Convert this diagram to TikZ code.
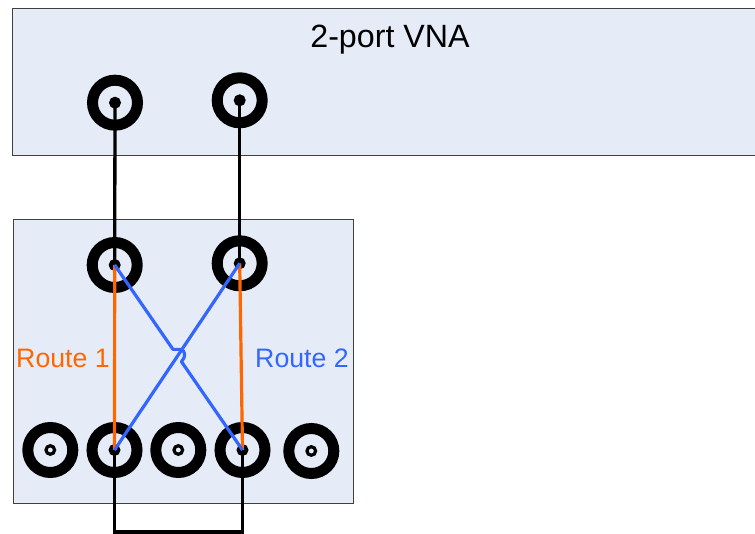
\documentclass[tikz,border=0pt]{standalone}
\usepackage{fontspec}
\setmainfont{Liberation Sans}
\usetikzlibrary{calc}
\definecolor{panel}{HTML}{E6ECF7}
\definecolor{routeO}{HTML}{FF6600}
\definecolor{routeB}{HTML}{3366FF}
\tikzset{
  panelbox/.style={draw=black!75,line width=0.75pt,fill=panel},
  jack/.style={circle,draw=black,line width=11pt,minimum size=45pt,inner sep=0pt,fill=panel},
  hub/.style={circle,draw=black,line width=3.2pt,fill=panel,minimum size=8.6pt,inner sep=0pt},
  wire/.style={draw=black,line width=3.3pt},
  routeone/.style={draw=routeO,line width=3.2pt},
  routetwo/.style={draw=routeB,line width=3.2pt,line join=round},
  lbl/.style={inner sep=0pt,anchor=base}
}
\begin{document}
\begin{tikzpicture}[x=1pt,y=-1pt]
\useasboundingbox (0,0) rectangle (755,534);
\clip (0,0) rectangle (755,534);
\fill[white] (0,0) rectangle (755,534);
\node[panelbox,minimum width=760pt,minimum height=147pt,inner sep=0pt,anchor=north west] (vna) at (11.6,8.3) {};
\node[panelbox,minimum width=340pt,minimum height=284pt,inner sep=0pt,anchor=north west] (box) at (12.8,219.3) {};
\node[lbl,font=\fontsize{32.2}{32}\selectfont] (title) at (390,48) {2-port VNA};
\node[lbl,font=\fontsize{26.7}{27}\selectfont,text=routeO] (r1) at (63,368) {Route 1};
\node[lbl,font=\fontsize{26.7}{27}\selectfont,text=routeB] (r2) at (302,368) {Route 2};
% connectors
\foreach \n/\x/\y in {t1/115/102.7,t2/239.7/100.3,m1/114.7/265,m2/239.7/263.3,b1/50.3/450,b2/114.5/450,b3/178.3/450,b4/242.5/450,b5/311.3/451}{
  \node[jack] (\n) at (\x,\y) {};
}
\foreach \n in {b1,b3,b5}{\node[hub] (h\n) at (\n) {};}
\foreach \n in {t1,t2,m1,m2,b2,b4}{\node[hub,fill=black] (h\n) at (\n) {};}
% black wires
\draw[wire] (t1.center) -- (m1.center);
\draw[wire] (t2.center) -- (m2.center);
\draw[wire,line join=miter] (b2.center) -- (b2.center |- 0,532) coordinate (lc) -- (lc -| b4.center) coordinate (rc) -- (b4.center);
% routes
\draw[routeone] (m1.center) -- (b2.center);
\draw[routeone] (m2.center) -- (b4.center);
\draw[routetwo] (m2.center) -- (b2.center);
\path (m1.center) -- coordinate[pos=0.456] (hopa) coordinate[pos=0.523] (hopb) (b4.center);
\draw[routetwo] (m1.center) -- (hopa) -- ++(7,0) .. controls ($(hopa)+(13,1)$) and ($(hopa)+(13,7)$) .. (hopb) -- (b4.center);
\end{tikzpicture}
\end{document}
